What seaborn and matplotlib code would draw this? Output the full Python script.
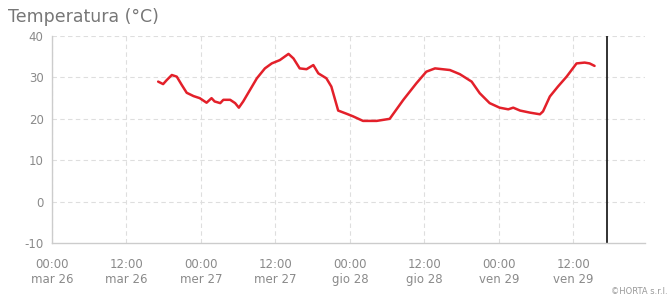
import pandas as pd
import matplotlib
matplotlib.use("Agg")
import matplotlib.pyplot as plt
import seaborn as sns

# Dati (ore dalle 00:00 di mar 26, temperatura in °C)
ore = [17.1, 17.9, 18.5, 19.3, 20.1, 20.9, 21.7, 22.8, 23.8, 24.9, 25.7, 26.2,
       27.1, 27.6, 28.7, 29.5, 30.1, 30.8, 31.9, 33.0, 34.3, 35.4, 36.7, 38.1,
       38.9, 39.9, 41.0, 42.1, 42.9, 44.2, 45.0, 46.1, 47.5, 48.5, 50.1, 52.3,
       54.4, 56.6, 58.7, 60.3, 61.7, 64.1, 65.7, 67.6, 68.9, 70.5, 72.1, 73.5,
       74.3, 75.4, 77.0, 78.6, 79.1, 80.2, 81.5, 82.9, 84.5, 85.8, 86.6, 87.4]
temperatura = [29.0, 28.4, 29.4, 30.6, 30.2, 28.2, 26.3, 25.5, 25.0, 23.9, 25.0, 24.2,
               23.8, 24.6, 24.6, 23.8, 22.7, 24.2, 27.0, 29.8, 32.2, 33.4, 34.2, 35.7,
               34.6, 32.2, 32.0, 33.0, 31.0, 29.8, 27.8, 22.0, 21.2, 20.6, 19.5, 19.5,
               20.0, 24.6, 28.6, 31.4, 32.2, 31.8, 30.8, 29.0, 26.2, 23.8, 22.7, 22.3,
               22.7, 22.0, 21.5, 21.1, 21.8, 25.4, 27.8, 30.2, 33.4, 33.6, 33.4, 32.8]

tick_ore = [0, 12, 24, 36, 48, 60, 72, 84]
tick_etichette = ["00:00\nmar 26", "12:00\nmar 26", "00:00\nmer 27", "12:00\nmer 27",
                  "00:00\ngio 28", "12:00\ngio 28", "00:00\nven 29", "12:00\nven 29"]
y_tick = [-10, 0, 10, 20, 30, 40]
ora_attuale = 89.4

df = pd.DataFrame({"ore": ore, "temperatura": temperatura})

sns.set_style("white")
plt.rcParams["font.family"] = ["DejaVu Sans"]
plt.rcParams["axes.unicode_minus"] = False

fig = plt.figure(figsize=(6.71, 3.01), dpi=100)
ax = fig.add_axes([0.0775, 0.193, 0.8835, 0.687])

# Griglia tratteggiata
for t in tick_ore:
    ax.axvline(t, color="#dedede", linestyle=(0, (4, 3)), linewidth=0.8, zorder=0)
for t in y_tick[1:]:
    ax.axhline(t, color="#dedede", linestyle=(0, (4, 3)), linewidth=0.8, zorder=0)

sns.lineplot(data=df, x="ore", y="temperatura", color="#e3202a", linewidth=1.8, ax=ax)

# Linea verticale dell'ora attuale
ax.axvline(ora_attuale, color="#222222", linewidth=1.3)

ax.set_xlim(0, 95.5)
ax.set_ylim(-10, 40)
ax.set_xticks(tick_ore)
ax.set_xticklabels(tick_etichette)
ax.set_yticks(y_tick)
ax.set_xlabel("")
ax.set_ylabel("")
ax.tick_params(axis="both", colors="#8a8a8a", labelsize=8.5, length=0, pad=6)
ax.tick_params(axis="x", pad=11)

for lato in ["top", "right"]:
    ax.spines[lato].set_visible(False)
for lato in ["left", "bottom"]:
    ax.spines[lato].set_color("#cccccc")
    ax.spines[lato].set_linewidth(1.0)

fig.text(0.012, 0.945, "Temperatura (°C)", color="#777777", fontsize=12.5, va="center")
fig.text(0.995, 0.015, "\u00a9HORTA s.r.l.", color="#999999", fontsize=6, ha="right", va="bottom")

fig.savefig("out.png", dpi=100)
